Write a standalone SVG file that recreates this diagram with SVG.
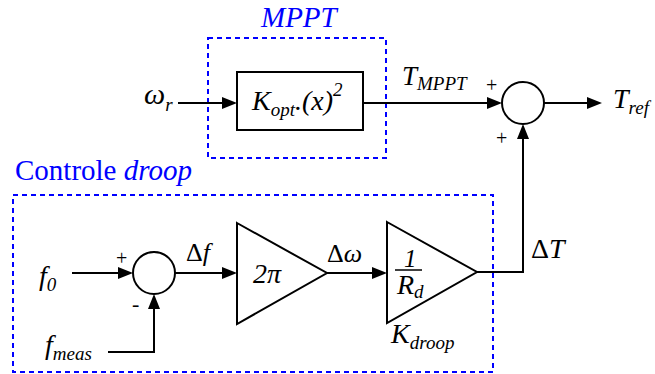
<svg xmlns="http://www.w3.org/2000/svg" width="655" height="374" viewBox="0 0 655 374" font-family="Liberation Serif">
<rect width="655" height="374" fill="#fff"/>

<g id="mppt-frame" font-family="Liberation Serif">
<rect x="208" y="38" width="178" height="120" fill="none" stroke="#0000FF" stroke-width="2" stroke-dasharray="5,4"/>
<text x="261" y="27" font-family="Liberation Serif" font-size="29" font-style="italic" fill="#0000FF">MPPT</text>
</g>
<g id="droop-frame" font-family="Liberation Serif">
<rect x="13" y="195" width="480" height="177" fill="none" stroke="#0000FF" stroke-width="2" stroke-dasharray="5,4"/>
<text x="15" y="180" font-family="Liberation Serif" font-size="29" fill="#0000FF">Controle <tspan font-style="italic">droop</tspan></text>
</g>

<g id="connectors">
<g fill="none" stroke="#000" stroke-width="2">
<path d="M178,103 H223"/>
<path d="M363,103 H488"/>
<path d="M544,103 H588"/>
<path d="M477,272 H523 V138"/>
<path d="M72,273 H119"/>
<path d="M108,352 H154 V308"/>
<path d="M175,273 H223"/>
<path d="M327,273 H373"/>
</g>
<g fill="#000">
<polygon points="222,97 237,103 222,109"/>
<polygon points="487,97 502,103 487,109"/>
<polygon points="587,97 602,103 587,109"/>
<polygon points="517,139 523,124 529,139"/>
<polygon points="118,267 133,273 118,279"/>
<polygon points="148,309 154,294 160,309"/>
<polygon points="222,267 237,273 222,279"/>
<polygon points="372,267 387,273 372,279"/>
</g>
</g>

<g id="omega-r" font-family="Liberation Serif">
<text x="144" y="104" font-family="Liberation Serif" font-style="italic" font-size="30">ω<tspan font-size="19" dy="7">r</tspan></text>
</g>
<g id="kopt-block" font-family="Liberation Serif">
<rect x="237" y="72" width="126" height="58" fill="#fff" stroke="#000" stroke-width="2"/>
<text x="252" y="110" font-family="Liberation Serif" font-style="italic" font-size="28">K<tspan font-size="19" dy="6">opt</tspan><tspan dy="-6">.(x)</tspan><tspan font-size="19" dy="-14">2</tspan></text>
</g>
<g id="tmppt-label" font-family="Liberation Serif">
<text x="402" y="85" font-family="Liberation Serif" font-style="italic" font-size="27">T<tspan font-size="19" dy="5">MPPT</tspan></text>
</g>
<g id="sum-top" font-family="Liberation Serif">
<circle cx="523" cy="103" r="21" fill="#fff" stroke="#000" stroke-width="2"/>
<text x="486" y="92" font-family="Liberation Serif" font-size="20">+</text>
<text x="496" y="145" font-family="Liberation Serif" font-size="20">+</text>
</g>
<g id="tref" font-family="Liberation Serif">
<text x="613" y="108" font-family="Liberation Serif" font-style="italic" font-size="28">T<tspan font-size="19" dy="6">ref</tspan></text>
</g>
<g id="deltaT" font-family="Liberation Serif">
<text x="531" y="258" font-family="Liberation Serif" font-size="28">Δ<tspan font-style="italic">T</tspan></text>
</g>
<g id="f0" font-family="Liberation Serif">
<text x="39" y="285" font-family="Liberation Serif" font-style="italic" font-size="28">f<tspan font-size="19" dy="6">0</tspan></text>
</g>
<g id="fmeas" font-family="Liberation Serif">
<text x="45" y="354" font-family="Liberation Serif" font-style="italic" font-size="28">f<tspan font-size="19" dy="6">meas</tspan></text>
</g>
<g id="sum-bottom" font-family="Liberation Serif">
<circle cx="154" cy="273" r="21" fill="#fff" stroke="#000" stroke-width="2"/>
<text x="116" y="265" font-family="Liberation Serif" font-size="20">+</text>
<text x="132" y="311" font-family="Liberation Serif" font-size="22">-</text>
</g>
<g id="deltaf" font-family="Liberation Serif">
<text x="186" y="261" font-family="Liberation Serif" font-size="26">Δ<tspan font-style="italic">f</tspan></text>
</g>
<g id="gain-2pi" font-family="Liberation Serif">
<polygon points="237,223 327,273 237,324" fill="#fff" stroke="#000" stroke-width="2"/>
<text x="253" y="283" font-family="Liberation Serif" font-style="italic" font-size="28">2π</text>
</g>
<g id="deltaomega" font-family="Liberation Serif">
<text x="327" y="262" font-family="Liberation Serif" font-size="26">Δ<tspan font-style="italic">ω</tspan></text>
</g>
<g id="gain-kdroop" font-family="Liberation Serif">
<polygon points="387,222 477,272 387,323" fill="#fff" stroke="#000" stroke-width="2"/>
<text x="404" y="267" font-family="Liberation Serif" font-style="italic" font-size="25">1</text>
<line x1="395" y1="270" x2="422" y2="270" stroke="#000" stroke-width="1.5"/>
<text x="397" y="294" font-family="Liberation Serif" font-style="italic" font-size="28">R<tspan font-size="19" dy="4">d</tspan></text>
<text x="391" y="343" font-family="Liberation Serif" font-style="italic" font-size="28">K<tspan font-size="19" dy="6">droop</tspan></text>
</g>
</svg>
